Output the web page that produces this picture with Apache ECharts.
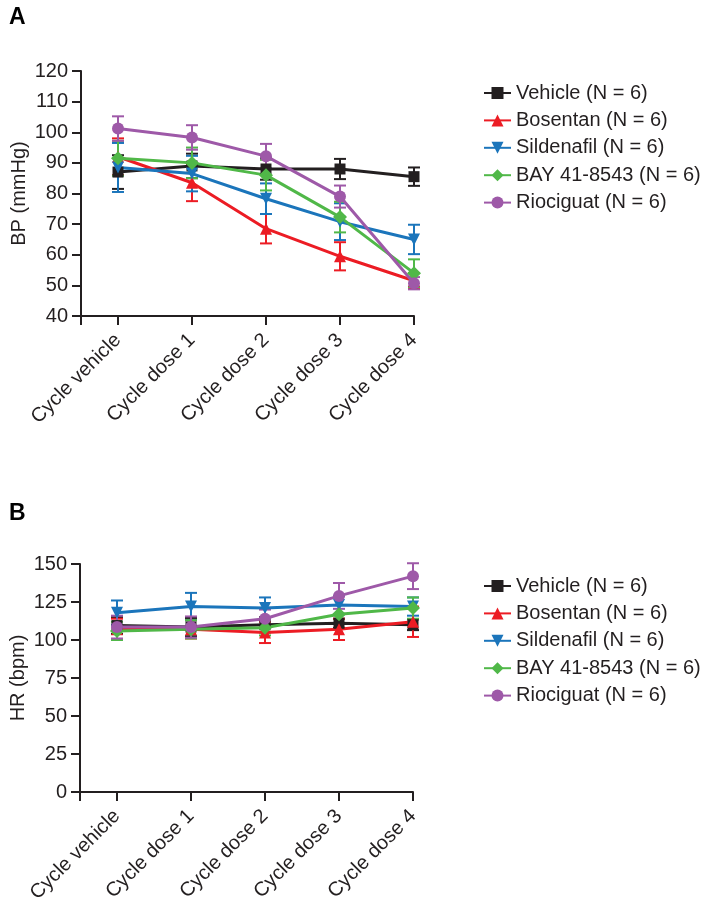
<!DOCTYPE html>
<html>
<head>
<meta charset="utf-8">
<title>BP and HR</title>
<script src="https://cdn.jsdelivr.net/npm/echarts@6/dist/echarts.min.js"></script>
<style>
  html, body { margin: 0; padding: 0; background: #fff; }
  #chart { width: 713px; height: 907px; }
</style>
</head>
<body>
<div id="chart"></div>
<script>
// categories along x (placed at 0..4 on a value axis, which starts at -0.5)
const categories = ['Cycle vehicle', 'Cycle dose 1', 'Cycle dose 2', 'Cycle dose 3', 'Cycle dose 4'];
const groupNames = ['Vehicle (N = 6)', 'Bosentan (N = 6)', 'Sildenafil (N = 6)', 'BAY 41-8543 (N = 6)', 'Riociguat (N = 6)'];

// panel A: blood pressure (mmHg), mean and error
const bpVehicle = [87, 89, 88, 88, 85.5];
const bpVehicleErr = [5.5, 4, 3.5, 3.3, 3];
const bpBosentan = [92, 83.5, 68.5, 59.5, 51.5];
const bpBosentanErr = [6, 6, 4.8, 4.6, 2.5];
const bpSildenafil = [88.5, 86.5, 78.3, 70.8, 65];
const bpSildenafilErr = [8, 5.8, 5, 6, 4.8];
const bpBay = [91.5, 90, 86, 72.3, 54];
const bpBayErr = [5.7, 5, 5, 5, 4.5];
const bpRiociguat = [101.2, 98.3, 92.2, 79, 50.7];
const bpRiociguatErr = [4, 4, 4, 3.6, 2];

// panel B: heart rate (bpm), mean and error
const hrVehicle = [109.5, 108.5, 110, 111, 110];
const hrVehicleErr = [5.5, 6, 5, 3, 3.5];
const hrBosentan = [107, 107, 105, 107, 112];
const hrBosentanErr = [7, 6, 7, 7, 10];
const hrSildenafil = [118, 122, 121, 123, 122];
const hrSildenafilErr = [8, 9, 7, 6, 6];
const hrBay = [106, 107, 108, 117, 121];
const hrBayErr = [6, 6, 5, 6, 7];
const hrRiociguat = [108.5, 108.5, 114, 129, 142];
const hrRiociguatErr = [7.5, 7, 6, 8.5, 8.5];

const bpTicks = [40, 50, 60, 70, 80, 90, 100, 110, 120];
const hrTicks = [0, 25, 50, 75, 100, 125, 150];

const colors = ['#231f20', '#ec1c24', '#1b75bb', '#50b848', '#9e59a8'];
const symbols = ['rect', 'triangle', 'triangle', 'diamond', 'circle'];
const symbolRotates = [0, 0, 180, 0, 0];
const symbolSizes = [11, 12, 12, 14, 12];

const font = '"Liberation Sans", Arial, sans-serif';
const ink = '#231f20';

const chart = echarts.init(document.getElementById('chart'));

function errorBars(gridIdx, name, means, errs, color) {
  return {
    name: name + ' err',
    type: 'custom',
    xAxisIndex: gridIdx,
    yAxisIndex: gridIdx,
    z: 1,
    silent: true,
    data: means.map((m, i) => [i, m - errs[i], m + errs[i]]),
    encode: { x: 0, y: [1, 2] },
    renderItem: function (params, api) {
      const lo = api.coord([api.value(0), api.value(1)]);
      const hi = api.coord([api.value(0), api.value(2)]);
      const w = 6;
      const style = { stroke: color, lineWidth: 2 };
      return {
        type: 'group',
        children: [
          { type: 'line', shape: { x1: lo[0], y1: lo[1], x2: hi[0], y2: hi[1] }, style: style },
          { type: 'line', shape: { x1: lo[0] - w, y1: lo[1], x2: lo[0] + w, y2: lo[1] }, style: style },
          { type: 'line', shape: { x1: hi[0] - w, y1: hi[1], x2: hi[0] + w, y2: hi[1] }, style: style }
        ]
      };
    }
  };
}

function lineSeries(gridIdx, k, means) {
  return {
    name: groupNames[k],
    type: 'line',
    xAxisIndex: gridIdx,
    yAxisIndex: gridIdx,
    z: 3,
    data: means.map((m, i) => [i, m]),
    symbol: symbols[k],
    symbolSize: symbolSizes[k],
    symbolRotate: symbolRotates[k],
    color: colors[k],
    lineStyle: { width: 3 },
    itemStyle: { color: colors[k] },
    animation: false
  };
}

const bpMeans = [bpVehicle, bpBosentan, bpSildenafil, bpBay, bpRiociguat];
const bpErrs = [bpVehicleErr, bpBosentanErr, bpSildenafilErr, bpBayErr, bpRiociguatErr];
const hrMeans = [hrVehicle, hrBosentan, hrSildenafil, hrBay, hrRiociguat];
const hrErrs = [hrVehicleErr, hrBosentanErr, hrSildenafilErr, hrBayErr, hrRiociguatErr];

const series = [];
bpMeans.forEach((m, k) => series.push(errorBars(0, groupNames[k], m, bpErrs[k], colors[k])));
hrMeans.forEach((m, k) => series.push(errorBars(1, groupNames[k], m, hrErrs[k], colors[k])));
bpMeans.forEach((m, k) => series.push(lineSeries(0, k, m)));
hrMeans.forEach((m, k) => series.push(lineSeries(1, k, m)));

function xAxisFor(gridIdx) {
  return {
    type: 'value',
    gridIndex: gridIdx,
    min: -0.5,
    max: 4,
    splitLine: { show: false },
    axisLine: { show: true, onZero: false, lineStyle: { color: ink, width: 2 } },
    axisTick: { show: true, customValues: [-0.5, 0, 1, 2, 3, 4], length: 9, lineStyle: { color: ink, width: 2 } },
    axisLabel: {
      customValues: [0, 1, 2, 3, 4],
      formatter: v => categories[Math.round(v)],
      rotate: 45,
      margin: 21,
      color: ink,
      fontSize: 20,
      fontFamily: font
    }
  };
}

function yAxisFor(gridIdx, name, ticks) {
  return {
    type: 'value',
    gridIndex: gridIdx,
    name: name,
    nameLocation: 'middle',
    nameGap: 52,
    nameTextStyle: { color: ink, fontSize: 20, fontFamily: font },
    min: ticks[0],
    max: ticks[ticks.length - 1],
    interval: ticks[1] - ticks[0],
    splitLine: { show: false },
    axisLine: { show: true, onZero: false, lineStyle: { color: ink, width: 2 } },
    axisTick: { show: true, length: 9, lineStyle: { color: ink, width: 2 } },
    axisLabel: { margin: 13, color: ink, fontSize: 20, fontFamily: font }
  };
}

function legendFor(top) {
  return {
    orient: 'vertical',
    left: 478,
    top: top,
    itemWidth: 27,
    itemHeight: 15,
    itemGap: 7.4,
    data: groupNames,
    selectedMode: false,
    textStyle: { color: ink, fontSize: 20, fontFamily: font, lineHeight: 20 }
  };
}

chart.setOption({
  backgroundColor: '#fff',
  animation: false,
  title: [
    { text: 'A', left: 4, top: 1, textStyle: { fontSize: 23, fontWeight: 'bold', color: '#000', fontFamily: font } },
    { text: 'B', left: 4, top: 497, textStyle: { fontSize: 23, fontWeight: 'bold', color: '#000', fontFamily: font } }
  ],
  legend: [legendFor(78), legendFor(571)],
  grid: [
    { left: 81, top: 71, width: 333, height: 245 },
    { left: 80, top: 564, width: 333, height: 228 }
  ],
  xAxis: [xAxisFor(0), xAxisFor(1)],
  yAxis: [yAxisFor(0, 'BP (mmHg)', bpTicks), yAxisFor(1, 'HR (bpm)', hrTicks)],
  series: series
});
</script>
</body>
</html>
